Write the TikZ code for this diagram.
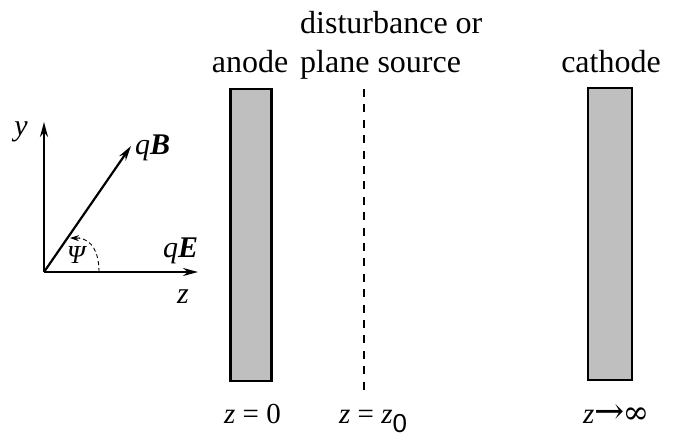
\documentclass[tikz,border=0pt]{standalone}
\usepackage{fontspec}
\setmainfont{Liberation Serif}
\setsansfont{Liberation Sans}
\newfontfamily\arrowfont{DejaVu Serif}
\usetikzlibrary{arrows.meta}
\begin{document}
\begin{tikzpicture}[x=1pt,y=-1pt,
  electrode/.style={draw=black,fill=black!25,line width=2.8pt},
  axis/.style={line width=2.2pt,-{Stealth[length=15pt,width=8pt]}},
  toplabel/.style={font=\fontsize{32}{40}\selectfont,inner sep=0pt},
  botlabel/.style={font=\fontsize{29}{34}\selectfont,inner sep=0pt},
  veclabel/.style={font=\fontsize{30}{34}\selectfont,inner sep=0pt}]
\useasboundingbox (0,0) rectangle (685,437);
% electrodes
\node[electrode,minimum width=41pt,minimum height=292pt,inner sep=0pt] (anode) at (251,235) {};
\node[electrode,minimum width=44pt,minimum height=292pt,inner sep=0pt] (cathode) at (610,234) {};
% plane source
\coordinate (ps1) at (364,89);
\coordinate (ps2) at (364,390);
\draw[line width=1.6pt,dash pattern=on 8pt off 7.4pt] (ps1) -- (ps2);
% top labels
\node[toplabel,anchor=base] (lanode) at (250,72) {anode};
\node[toplabel,anchor=base west] (ldist) at (300,33) {disturbance or};
\node[toplabel,anchor=base west] (lplane) at (300,72) {plane source};
\node[toplabel,anchor=base] (lcath) at (611,72) {cathode};
% bottom labels
\node[botlabel,anchor=base west] (b1) at (224,423) {\textit{z} = 0};
\node[botlabel,anchor=base west] (b2) at (339,423) {\textit{z} = \textit{z}\raisebox{-9pt}{\fontsize{26}{30}\sffamily 0}};
\node[botlabel,anchor=base west] (b3) at (583,423) {\textit{z}{\arrowfont\fontsize{36}{40}\selectfont →}\kern-2pt{\arrowfont\fontsize{32}{36}\selectfont ∞}};
% axes
\coordinate (O) at (44,272);
\coordinate (Y) at (44,122);
\coordinate (Z) at (198,272);
\coordinate (B) at (131,146);
\draw[axis] (O) -- (Y);
\draw[axis] (O) -- (Z);
\draw[axis] (O) -- (B);
\coordinate (A1) at (99,272);
\coordinate (A2) at (70,238);
\draw[line width=0.9pt,dash pattern=on 4pt off 3pt] (A1) .. controls (99,252) and (92,240) .. (79,238);
\draw[line width=0.9pt,-{Stealth[length=9pt,width=6pt]}] (80,238.2) -- (A2);
\node[veclabel,anchor=center] (ly) at (21,132) {\textit{y}};
\node[veclabel,anchor=base west] (lB) at (135,154) {\textit{q}\textbf{\textit{B}}};
\node[veclabel,anchor=base west] (lE) at (163,257) {\textit{q}\textbf{\textit{E}}};
\node[veclabel,anchor=base] (lz) at (183,303) {\textit{z}};
\node[font=\fontsize{26}{30}\selectfont,inner sep=0pt,anchor=center] (psi) at (77,255) {\textit{Ψ}};
\end{tikzpicture}
\end{document}
